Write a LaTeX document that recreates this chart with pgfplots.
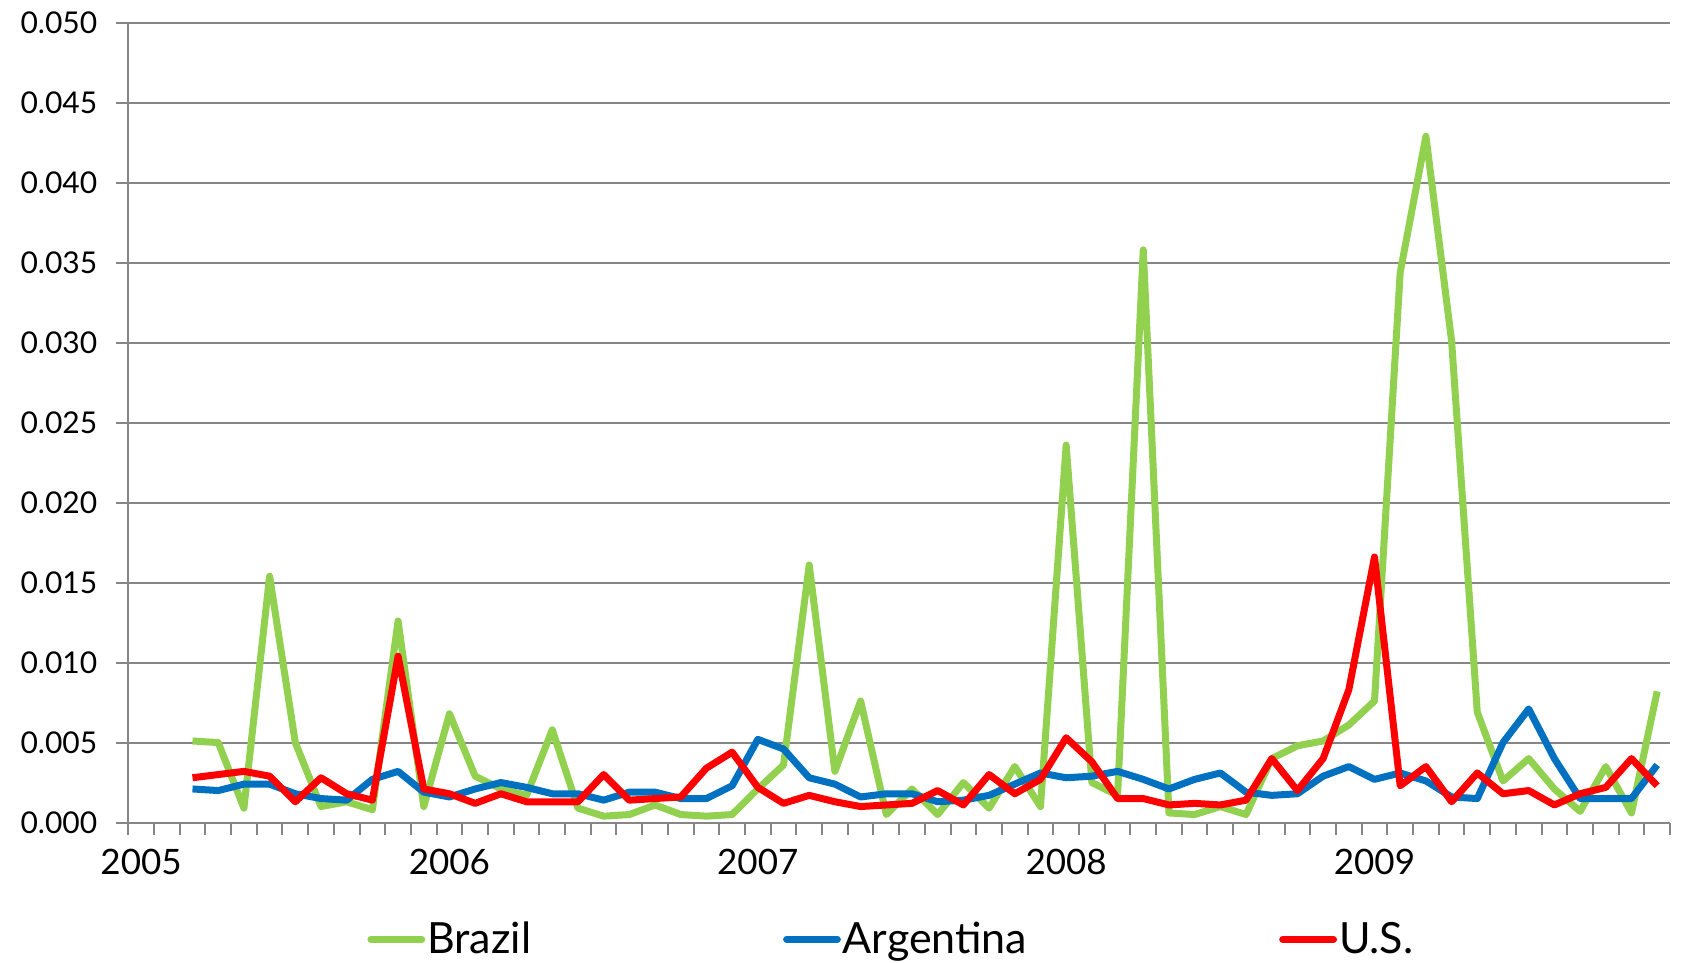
\documentclass[border=0pt]{standalone}
\usepackage{fontspec}
\setmainfont{Lato}
\usepackage{pgfplots}
\usepackage{pgfplotstable}
\pgfplotsset{compat=1.18}
\definecolor{cbr}{RGB}{146,208,80}
\definecolor{car}{RGB}{0,112,192}
\definecolor{cus}{RGB}{255,0,0}
\definecolor{cgr}{RGB}{134,134,134}
\pgfplotstableread{
x br ar us
2.5 0.0051 0.0021 0.0028
3.5 0.0050 0.0020 0.0030
4.5 0.0009 0.0024 0.0032
5.5 0.0154 0.0024 0.0029
6.5 0.0050 0.0018 0.0013
7.5 0.0010 0.0015 0.0028
8.5 0.0013 0.0014 0.0018
9.5 0.0008 0.0027 0.0014
10.5 0.0126 0.0032 0.0104
11.5 0.0010 0.0019 0.0021
12.5 0.0068 0.0016 0.0018
13.5 0.0029 0.0021 0.0012
14.5 0.0021 0.0025 0.0018
15.5 0.0017 0.0022 0.0013
16.5 0.0058 0.0018 0.0013
17.5 0.0009 0.0018 0.0013
18.5 0.0004 0.0014 0.0030
19.5 0.0005 0.0019 0.0014
20.5 0.0011 0.0019 0.0015
21.5 0.0005 0.0015 0.0016
22.5 0.0004 0.0015 0.0034
23.5 0.0005 0.0023 0.0044
24.5 0.0021 0.0052 0.0022
25.5 0.0036 0.0046 0.0012
26.5 0.0161 0.0028 0.0017
27.5 0.0032 0.0024 0.0013
28.5 0.0076 0.0016 0.0010
29.5 0.0005 0.0018 0.0011
30.5 0.0021 0.0018 0.0012
31.5 0.0005 0.0013 0.0020
32.5 0.0025 0.0014 0.0011
33.5 0.0009 0.0017 0.0030
34.5 0.0035 0.0024 0.0018
35.5 0.0010 0.0031 0.0027
36.5 0.0236 0.0028 0.0053
37.5 0.0025 0.0029 0.0038
38.5 0.0017 0.0032 0.0015
39.5 0.0358 0.0027 0.0015
40.5 0.0006 0.0021 0.0011
41.5 0.0005 0.0027 0.0012
42.5 0.0010 0.0031 0.0011
43.5 0.0005 0.0019 0.0014
44.5 0.0040 0.0017 0.0040
45.5 0.0048 0.0018 0.0020
46.5 0.0051 0.0029 0.0040
47.5 0.0061 0.0035 0.0083
48.5 0.0076 0.0027 0.0166
49.5 0.0344 0.0031 0.0023
50.5 0.0429 0.0026 0.0035
51.5 0.0301 0.0016 0.0013
52.5 0.0069 0.0015 0.0031
53.5 0.0026 0.0050 0.0018
54.5 0.0040 0.0071 0.0020
55.5 0.0021 0.0040 0.0011
56.5 0.0007 0.0015 0.0018
57.5 0.0035 0.0015 0.0022
58.5 0.0006 0.0015 0.0040
59.5 0.0082 0.0036 0.0023
}\datatable
\begin{document}
\begin{tikzpicture}
\begin{axis}[
  scale only axis,
  width=771pt, height=400pt,
  xmin=0, xmax=60, ymin=0, ymax=0.05,
  axis x line*=bottom, axis y line*=left,
  axis line style={cgr, line width=1pt},
  xtick={0,12,24,36,48}, xticklabels={2005,2006,2007,2008,2009},
  minor xtick={0,1,...,60},
  ytick={0,0.005,0.01,0.015,0.02,0.025,0.03,0.035,0.04,0.045,0.05},
  yticklabels={0.000,0.005,0.010,0.015,0.020,0.025,0.030,0.035,0.040,0.045,0.050},
  tick align=outside,
  major tick length=6pt, minor tick length=6pt,
  every tick/.style={cgr, line width=1pt},
  minor tick style={cgr, line width=1pt},
  ymajorgrids,
  major grid style={cgr, line width=1pt},
  yticklabel style={font=\fontsize{15}{18}\selectfont, xshift=-6pt, inner ysep=0pt},
  xticklabel style={font=\fontsize{17.5}{20}\selectfont, xshift=6.4pt, yshift=-4pt},
  legend columns=3,
  legend style={at={(0.495,-0.146)}, anchor=center, draw=none, fill=none,
    font=\fontsize{21.5}{24}\selectfont,
    /tikz/every even column/.append style={column sep=125pt},
    nodes={inner sep=1pt}},
  legend image code/.code={\draw[#1, line cap=round] (1.8pt,0pt) -- (27.2pt,0pt);},
  every axis plot/.append style={line width=3.5pt, line join=round},
]
\addplot[cbr] table[x=x, y=br] {\datatable};
\addlegendentry{Brazil}
\addplot[car] table[x=x, y=ar] {\datatable};
\addlegendentry{Argentina}
\addplot[cus] table[x=x, y=us] {\datatable};
\addlegendentry{U.S.}
\end{axis}
\pgfresetboundingbox
\path ([xshift=-64.15pt, yshift=-70pt]current axis.south west) rectangle ([xshift=6pt, yshift=11.35pt]current axis.north east);
\end{tikzpicture}
\end{document}
